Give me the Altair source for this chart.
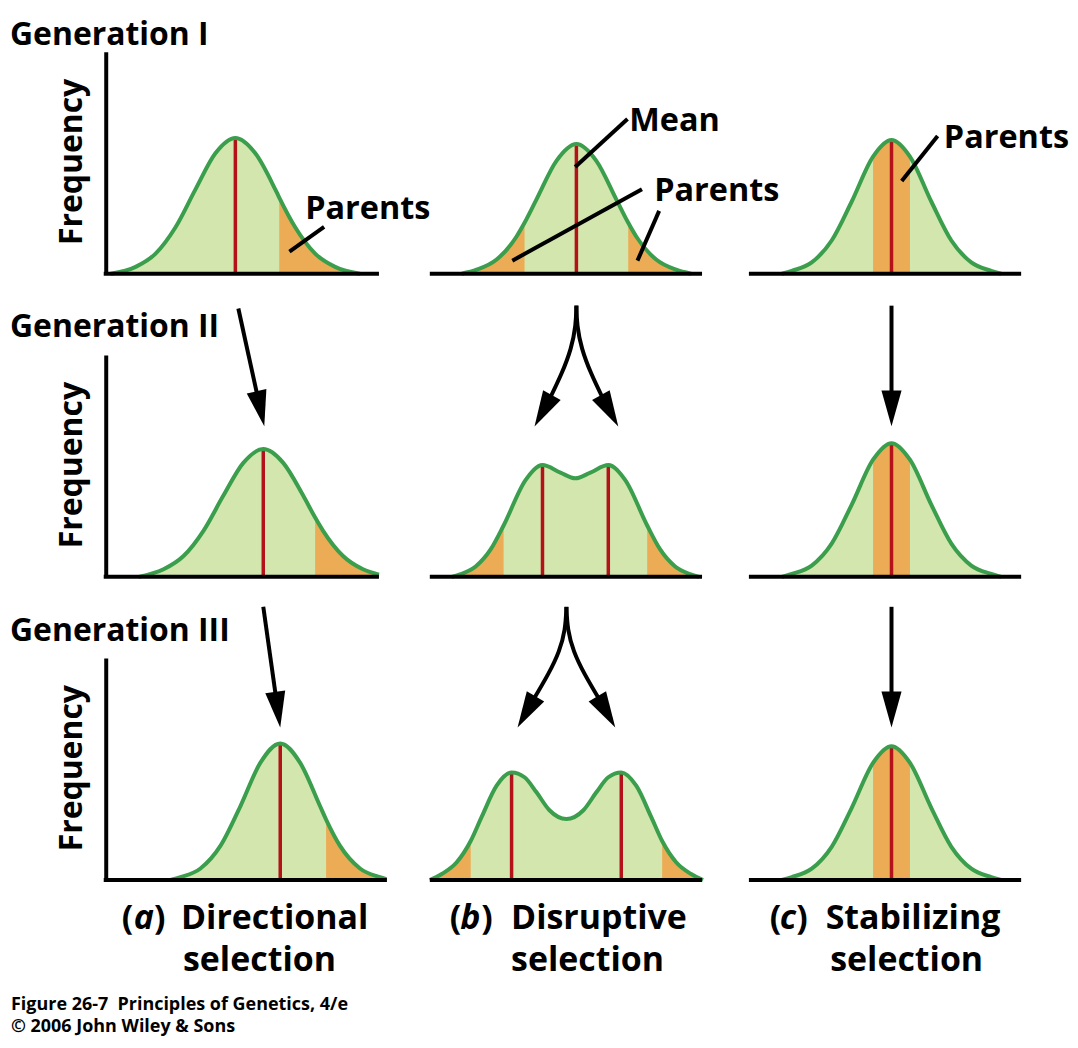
import altair as alt
import pandas as pd

GENS = ["I", "II", "III"]
SELS = ["a", "b", "c"]

# ---------- phenotype distributions: trait value (x) and frequency (y) ----------
dir1_x = [2.4, 12.4, 20.4, 28.4, 36.4, 44.4, 52.4, 60.4, 68.4, 70.0, 76.4, 84.4, 92.4, 102.4]
dir1_y = [0, 3.1, 9.1, 21.0, 38.1, 54.4, 61.3, 54.4, 38.1, 34.4, 21.0, 9.1, 3.1, 0]
dir2_x = [13.6, 23.6, 31.6, 39.6, 47.6, 55.6, 63.6, 71.6, 79.6, 84.4, 87.6, 95.6, 103.6, 110.0]
dir2_y = [0, 3.4, 9.4, 20.8, 36.7, 51.5, 57.7, 51.5, 36.7, 26.8, 20.8, 9.4, 3.4, 1.0]
dir3_x = [26.4, 30.4, 38.4, 46.4, 54.4, 62.4, 70.4, 78.4, 86.4, 88.8, 94.4, 102.4, 110.4, 113.0]
dir3_y = [0, 1.3, 5.2, 15.4, 33.3, 52.9, 61.7, 52.9, 33.3, 27.3, 15.4, 5.2, 1.3, 0.4]

dis1_x = [14.0, 20.0, 28.0, 36.0, 39.2, 44.0, 52.0, 60.0, 68.0, 76.0, 80.8, 84.0, 92.0, 100.0, 106.0]
dis1_y = [0, 1.8, 6.4, 16.8, 23.0, 33.6, 51.0, 58.6, 51.0, 33.6, 23.0, 16.8, 6.4, 1.8, 0]
dis2_x = [10.0, 13.6, 19.6, 25.6, 30.8, 39.6, 46.4, 53.6, 59.6, 65.6, 72.8, 79.6, 88.4, 93.6, 99.6, 105.6, 109.2]
dis2_y = [0, 1.2, 4.7, 12.4, 23.2, 43.7, 50.5, 47.1, 44.5, 47.1, 50.5, 43.7, 23.2, 12.4, 4.7, 1.2, 0]
dis3_x = [1.2, 6.0, 12.0, 17.6, 22.0, 28.0, 34.0, 39.2, 44.0, 49.2, 56.0, 62.8, 68.0, 72.8, 78.0,
          84.0, 90.0, 94.4, 100.0, 106.0, 110.8]
dis3_y = [0, 2.7, 8.0, 17.6, 28.5, 42.6, 48.6, 46.4, 39.6, 31.5, 27.5, 31.5, 39.6, 46.4, 48.6,
          42.6, 28.5, 17.6, 8.0, 2.7, 0]

sta_x = [13.2, 17.2, 25.2, 33.2, 41.2, 49.8, 57.2, 64.6, 73.2, 81.2, 89.2, 97.2, 101.2]
sta_y = [0, 1.3, 5.1, 15.0, 32.5, 52.9, 60.4, 52.9, 32.5, 15.0, 5.1, 1.3, 0]

curves = {
    ("I", "a"): (dir1_x, dir1_y), ("II", "a"): (dir2_x, dir2_y), ("III", "a"): (dir3_x, dir3_y),
    ("I", "b"): (dis1_x, dis1_y), ("II", "b"): (dis2_x, dis2_y), ("III", "b"): (dis3_x, dis3_y),
    ("I", "c"): (sta_x, sta_y), ("II", "c"): (sta_x, sta_y), ("III", "c"): (sta_x, sta_y),
}

# means (red lines)
means = {
    ("I", "a"): [52.4], ("II", "a"): [63.6], ("III", "a"): [70.4],
    ("I", "b"): [60.0], ("II", "b"): [46.4, 72.8], ("III", "b"): [34.0, 78.0],
    ("I", "c"): [57.2], ("II", "c"): [57.2], ("III", "c"): [57.2],
}

# selected parents (orange ranges of trait value)
parents = {
    ("I", "a"): [(70.0, 102.4)], ("II", "a"): [(84.4, 110.0)], ("III", "a"): [(88.8, 113.0)],
    ("I", "b"): [(14.0, 39.2), (80.8, 106.0)], ("II", "b"): [(10.0, 30.8), (88.4, 109.2)],
    ("III", "b"): [(1.2, 17.6), (94.4, 110.8)],
    ("I", "c"): [(49.8, 64.6)], ("II", "c"): [(49.8, 64.6)], ("III", "c"): [(49.8, 64.6)],
}

# x-axis extent of each panel
base_extent = {
    ("I", "a"): (-0.4, 110.0), ("II", "a"): (-0.4, 110.0), ("III", "a"): (-0.4, 113.2),
    ("I", "b"): (1.2, 110.4), ("II", "b"): (1.2, 110.4), ("III", "b"): (1.2, 110.4),
    ("I", "c"): (0.0, 109.2), ("II", "c"): (0.0, 109.2), ("III", "c"): (0.0, 109.2),
}

# annotations
gen_labels = ["Generation I", "Generation II", "Generation III"]
gen_label_y = [103.4, 108.4, 107.8]
callouts = {
    ("I", "a"): [("Parents", 80.4, 24.8)],
    ("I", "b"): [("Mean", 81.2, 64.4), ("Parents", 91.2, 32.9)],
    ("I", "c"): [("Parents", 78.2, 56.9)],
}
pointers = {
    ("I", "a"): [(74.1, 10.0, 88.0, 21.2)],
    ("I", "b"): [(59.5, 48.2, 80.5, 69.9), (34.3, 5.9, 86.3, 38.2), (84.5, 5.9, 93.2, 28.4)],
    ("I", "c"): [(61.3, 41.9, 75.7, 62.2)],
}
# arrows: shaft points and head (x, y, angle)
arrows = {
    ("II", "a"): [([(53.6, 121.2), (62.4, 75.9)], (64.0, 68.0, 347.6))],
    ("III", "a"): [([(63.6, 123.4), (69.4, 76.9)], (70.4, 68.9, 352.0))],
    ("II", "c"): [([(57.2, 122.5), (57.2, 76.1)], (57.2, 68.0, 0.0))],
    ("III", "c"): [([(57.2, 123.4), (57.2, 77.0)], (57.2, 68.9, 0.0))],
    ("II", "b"): [
        ([(60.0, 122.5), (59.8, 113.5), (58.0, 103.2), (54.4, 92.3), (48.8, 79.3)], (43.2, 67.9, 29.0)),
        ([(60.0, 122.5), (60.2, 113.5), (62.0, 103.2), (65.6, 92.3), (71.2, 79.3)], (76.8, 67.9, 331.0)),
    ],
    ("III", "b"): [
        ([(56.0, 123.4), (55.6, 113.1), (53.2, 103.2), (49.2, 93.7), (41.6, 79.3)], (36.4, 68.9, 30.0)),
        ([(56.0, 123.4), (56.4, 113.1), (58.8, 103.2), (62.8, 93.7), (70.4, 79.3)], (75.6, 68.9, 330.0)),
    ],
}
sel_letters = ["a", "b", "c"]
sel_words = ["Directional", "Disruptive", "Stabilizing"]
sel_paren_x = [(6.8, 11.6, 19.8), (9.2, 13.4, 21.8), (8.4, 12.4, 19.0)]
sel_word_x = [30.6, 33.8, 30.8]
sel_sel_x = [31.4, 33.8, 32.6]
footer_lines = ["Figure 26-7\u00a0 Principles of Genetics, 4/e", "\u00a9 2006 John Wiley & Sons"]
footer_y = [-58.6, -68.6]

# ---------------- build table ----------------
rows = []
for (g, s), (cx, cy) in curves.items():
    for i, (x, y) in enumerate(zip(cx, cy)):
        rows.append(dict(gen=g, sel=s, kind="curve", x=x, y=y))
    for j, (lo, hi) in enumerate(parents[(g, s)]):
        for x, y in zip(cx, cy):
            if lo - 1e-9 <= x <= hi + 1e-9:
                rows.append(dict(gen=g, sel=s, kind="orange", grp=f"o{j}", x=x, y=y))
    for mx in means[(g, s)]:
        my = cy[cx.index(mx)]
        rows.append(dict(gen=g, sel=s, kind="mean", x=mx, x2=mx, y=0, y2=my))
    b0, b1 = base_extent[(g, s)]
    rows.append(dict(gen=g, sel=s, kind="frame", x=b0, x2=b1, y=0, y2=0))

for gi, g in enumerate(GENS):
    rows.append(dict(gen=g, sel="a", kind="frame", x=0.6, x2=0.6, y=0, y2=100))
    rows.append(dict(gen=g, sel="a", kind="gen", x=-38.0, y=gen_label_y[gi], text=gen_labels[gi]))
    rows.append(dict(gen=g, sel="a", kind="freq", x=-9.0, y=50.5, text="Frequency"))

for key, items in callouts.items():
    for t, x, y in items:
        rows.append(dict(gen=key[0], sel=key[1], kind="ann", x=x, y=y, text=t))
for key, items in pointers.items():
    for x, y, x2, y2 in items:
        rows.append(dict(gen=key[0], sel=key[1], kind="pointer", x=x, y=y, x2=x2, y2=y2))
for key, items in arrows.items():
    for k, (shaft, head) in enumerate(items):
        for o, (x, y) in enumerate(shaft):
            rows.append(dict(gen=key[0], sel=key[1], kind="shaft", grp=f"s{k}", ord=o, x=x, y=y))
        rows.append(dict(gen=key[0], sel=key[1], kind="head", x=head[0], y=head[1], angle=head[2]))

for si, s in enumerate(SELS):
    px = sel_paren_x[si]
    rows.append(dict(gen="III", sel=s, kind="paren", x=px[0], y=-22.1, text="("))
    rows.append(dict(gen="III", sel=s, kind="letter", x=px[1], y=-22.1, text=sel_letters[si]))
    rows.append(dict(gen="III", sel=s, kind="paren", x=px[2], y=-22.1, text=")"))
    rows.append(dict(gen="III", sel=s, kind="paren", x=sel_word_x[si], y=-22.1, text=sel_words[si]))
    rows.append(dict(gen="III", sel=s, kind="paren", x=sel_sel_x[si], y=-41.0, text="selection"))
for line, fy in zip(footer_lines, footer_y):
    rows.append(dict(gen="III", sel="a", kind="footer", x=-37.6, y=fy, text=line))
# top-left corner of the figure
rows.append(dict(gen="I", sel="a", kind="anchor", x=-38.4, y=119.0))

df = pd.DataFrame(rows)

# ---------------- styles ----------------
LIGHT_GREEN = "#d2e6ae"
ORANGE = "#ecac55"
GREEN = "#3a9e4c"
RED = "#b3121b"
FONT = "Open Sans"

X = alt.X("x:Q", scale=alt.Scale(domain=[0, 110], nice=False, zero=False), axis=None)
Y = alt.Y("y:Q", scale=alt.Scale(domain=[0, 100], nice=False, zero=False), axis=None, stack=None)


def k(name):
    return alt.datum.kind == name


base = alt.Chart()
green_area = base.mark_area(interpolate="monotone", color=LIGHT_GREEN).encode(x=X, y=Y).transform_filter(k("curve"))
orange_area = base.mark_area(interpolate="monotone", color=ORANGE).encode(
    x=X, y=Y, detail="grp:N").transform_filter(k("orange"))
mean_rule = base.mark_rule(color=RED, strokeWidth=3.5).encode(
    x=X, y=Y, x2="x2:Q", y2="y2:Q").transform_filter(k("mean"))
green_line = base.mark_line(interpolate="monotone", color=GREEN, strokeWidth=4).encode(
    x=X, y=Y).transform_filter(k("curve"))
frame_rule = base.mark_rule(color="black", strokeWidth=4).encode(
    x=X, y=Y, x2="x2:Q", y2="y2:Q").transform_filter(k("frame"))
pointer_rule = base.mark_rule(color="black", strokeWidth=4).encode(
    x=X, y=Y, x2="x2:Q", y2="y2:Q").transform_filter(k("pointer"))
shaft_line = base.mark_line(interpolate="basis", color="black", strokeWidth=4).encode(
    x=X, y=Y, detail="grp:N", order="ord:Q").transform_filter(k("shaft"))
head_pt = base.mark_point(
    shape="M0,0 L-0.56,-2 L0.56,-2 Z", size=1296, filled=True, color="black", opacity=1, strokeWidth=0
).encode(x=X, y=Y, angle=alt.Angle("angle:Q", scale=None)).transform_filter(k("head"))


def txt(kind, size, **kw):
    props = dict(font=FONT, fontWeight="bold", fontSize=size, align="left", baseline="alphabetic", color="black")
    props.update(kw)
    return base.mark_text(**props).encode(x=X, y=Y, text="text:N").transform_filter(k(kind))


gen_text = txt("gen", 32)
freq_text = txt("freq", 32, angle=270, align="center")
ann_text = txt("ann", 32.5)
paren_text = txt("paren", 34)
letter_text = txt("letter", 34, fontStyle="italic")
footer_text = txt("footer", 18)
anchor = base.mark_point(size=1, filled=True, opacity=0).encode(x=X, y=Y).transform_filter(k("anchor"))

layers = alt.layer(
    green_area, orange_area, mean_rule, green_line, frame_rule, pointer_rule,
    shaft_line, head_pt, gen_text, freq_text, ann_text, paren_text, letter_text, footer_text, anchor,
).properties(width=275, height=222)

chart = layers.facet(
    row=alt.Row("gen:N", sort=GENS, header=None),
    column=alt.Column("sel:N", sort=SELS, header=None),
    data=df,
    spacing={"row": 82, "column": 48},
).properties(bounds="flush", padding=0).configure_view(stroke=None)

chart.save("out.html", embed_options={"renderer": "svg", "actions": False})
